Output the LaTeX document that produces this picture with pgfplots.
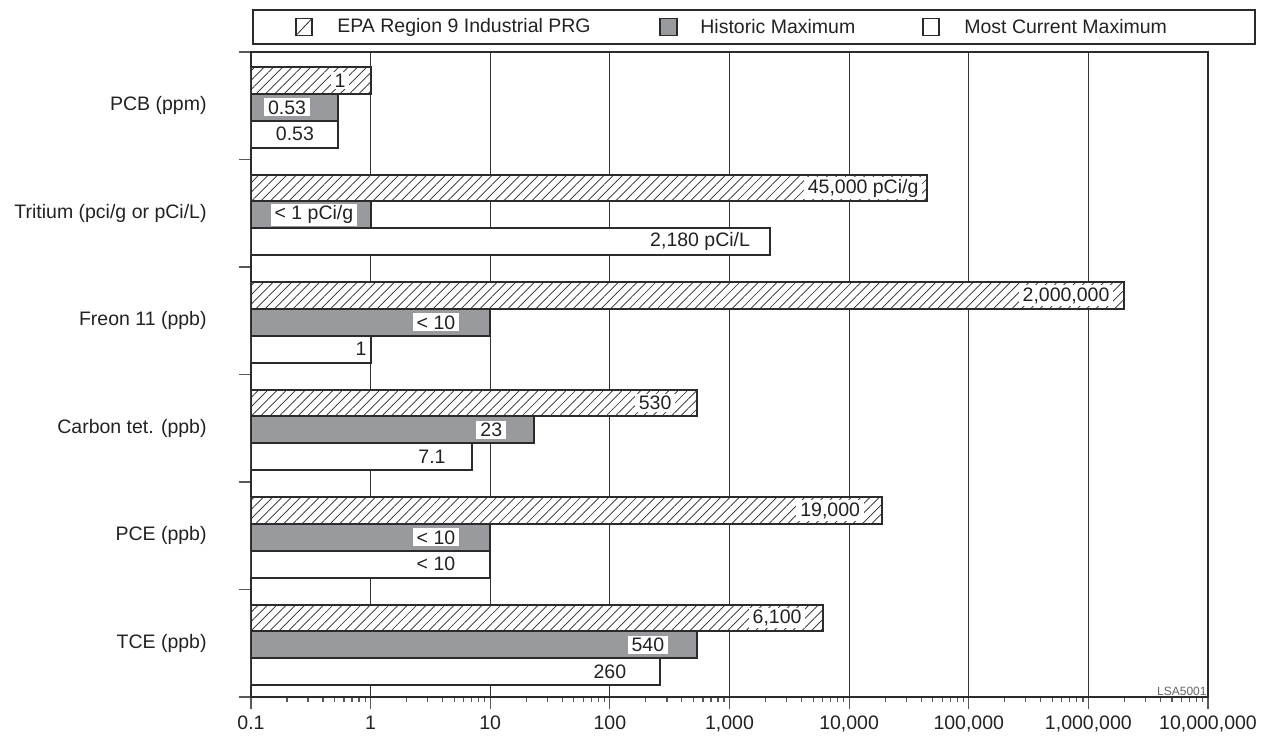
\documentclass[border=0pt]{standalone}
\usepackage{fontspec}
\setmainfont{Liberation Sans}
\usepackage{pgfplots}
\pgfplotsset{compat=1.18}
\usetikzlibrary{patterns.meta}

\definecolor{barline}{HTML}{2B2B2B}
\definecolor{bargray}{HTML}{999A9E}
\definecolor{txt}{HTML}{222222}

\tikzset{hatch/.style={preaction={fill=white}, pattern={Lines[angle=45,distance=3.3pt,line width=0.35pt]}, pattern color=black!85}}

\begin{document}
\begin{tikzpicture}[font=\fontsize{9.75}{11.7}\selectfont, text=txt]
\begin{axis}[name=ax, scale only axis, width=478.5pt, height=322.5pt,
  xmode=log, xmin=0.1, xmax=1e7, ymin=-0.5, ymax=5.5,
  log origin x=infty,
  xtick={0.1,1,10,100,1000,10000,100000,1000000,10000000},
  xticklabels={0.1,1,10,100,{1,000},{10,000},{100,000},{1,000,000},{10,000,000}},
  minor xtick={0.2,0.3,0.4,0.5,0.6,0.7,0.8,0.9,2,3,4,5,6,7,8,9,20,30,40,50,60,70,80,90,200,300,400,500,600,700,800,900,2000,3000,4000,5000,6000,7000,8000,9000,20000,30000,40000,50000,60000,70000,80000,90000,200000,300000,400000,500000,600000,700000,800000,900000,2000000,3000000,4000000,5000000,6000000,7000000,8000000,9000000},
  ytick={-0.5,0.5,1.5,2.5,3.5,4.5,5.5},
  yticklabels={},
  extra y ticks={0,1,2,3,4,5},
  extra y tick labels={TCE (ppb),PCE (ppb),Carbon tet. (ppb),Freon 11 (ppb),Tritium (pci/g or pCi/L),PCB (ppm)},
  extra y tick style={tick style={draw=none}, yticklabel style={xshift=-12.7pt}},
  xtick pos=left, ytick pos=left,
  tick align=outside,
  major tick length=6pt, minor tick length=2.5pt,
  tick style={line width=0.6pt, color=black!65},
  xmajorgrids,
  major grid style={line width=0.5pt, color=black!80},
  axis line style={line width=1.1pt, color=barline},
]
\addplot[xbar, bar width=0.25, bar shift=0pt, draw=barline, line width=1pt, hatch]
  coordinates {(1,5.235) (45000,4.235) (2000000,3.235) (530,2.235) (19000,1.235) (6100,0.235)};
\addplot[xbar, bar width=0.25, bar shift=0pt, draw=barline, line width=1pt, fill=bargray]
  coordinates {(0.53,4.985) (1,3.985) (10,2.985) (23,1.985) (10,0.985) (540,-0.015)};
\addplot[xbar, bar width=0.25, bar shift=0pt, draw=barline, line width=1pt, fill=white]
  coordinates {(0.53,4.735) (2180,3.735) (1,2.735) (7.1,1.735) (10,0.735) (260,-0.265)};
\addplot[draw=none, mark=none, nodes near coords, point meta=explicit symbolic,
  every node near coord/.style={anchor=center, fill=white, inner xsep=2pt, inner ysep=1pt}]
  coordinates {
  (0.555,5.235) [1]
  (0.2,4.985) [0.53]
  (0.233,4.735) [0.53]
  (13100,4.235) [45,000 pCi/g]
  (0.336,3.985) [< 1 pCi/g]
  (568,3.735) [2,180 pCi/L]
  (651000,3.235) [2,000,000]
  (3.52,2.985) [< 10]
  (0.83,2.735) [1]
  (239,2.235) [530]
  (10.2,1.985) [23]
  (3.26,1.735) [7.1]
  (6940,1.235) [19,000]
  (3.52,0.985) [< 10]
  (3.52,0.735) [< 10]
  (2500,0.235) [6,100]
  (208,-0.015) [540]
  (100,-0.265) [260]
  };
\node[anchor=south east, inner sep=0.5pt, font=\fontsize{6}{7}\selectfont, text=black!60] at (rel axis cs:1,0) {LSA5001};
\end{axis}
\begin{scope}[shift={(ax.south west)}]
  \draw[line width=1pt, draw=barline] (1pt,326.5pt) rectangle (502pt,343.5pt);
  \draw[line width=0.6pt, draw=barline, fill=white] (22.5pt,330.75pt) rectangle (30.5pt,339.25pt);
  \draw[line width=0.4pt, draw=barline] (22.5pt,330.75pt) -- (30.5pt,339.25pt);
  \node[anchor=west, inner sep=0pt] at (43pt,335pt) {EPA Region 9 Industrial PRG};
  \draw[line width=0.6pt, draw=barline, fill=bargray] (204.5pt,330.75pt) rectangle (213pt,339.25pt);
  \node[anchor=west, inner sep=0pt] at (224.5pt,335pt) {Historic Maximum};
  \draw[line width=0.6pt, draw=barline, fill=white] (336pt,330.75pt) rectangle (344pt,339.25pt);
  \node[anchor=west, inner sep=0pt] at (356.5pt,335pt) {Most Current Maximum};
  \path (-125.5pt,-22.5pt) rectangle (510pt,348.5pt);
\end{scope}
\end{tikzpicture}
\end{document}
